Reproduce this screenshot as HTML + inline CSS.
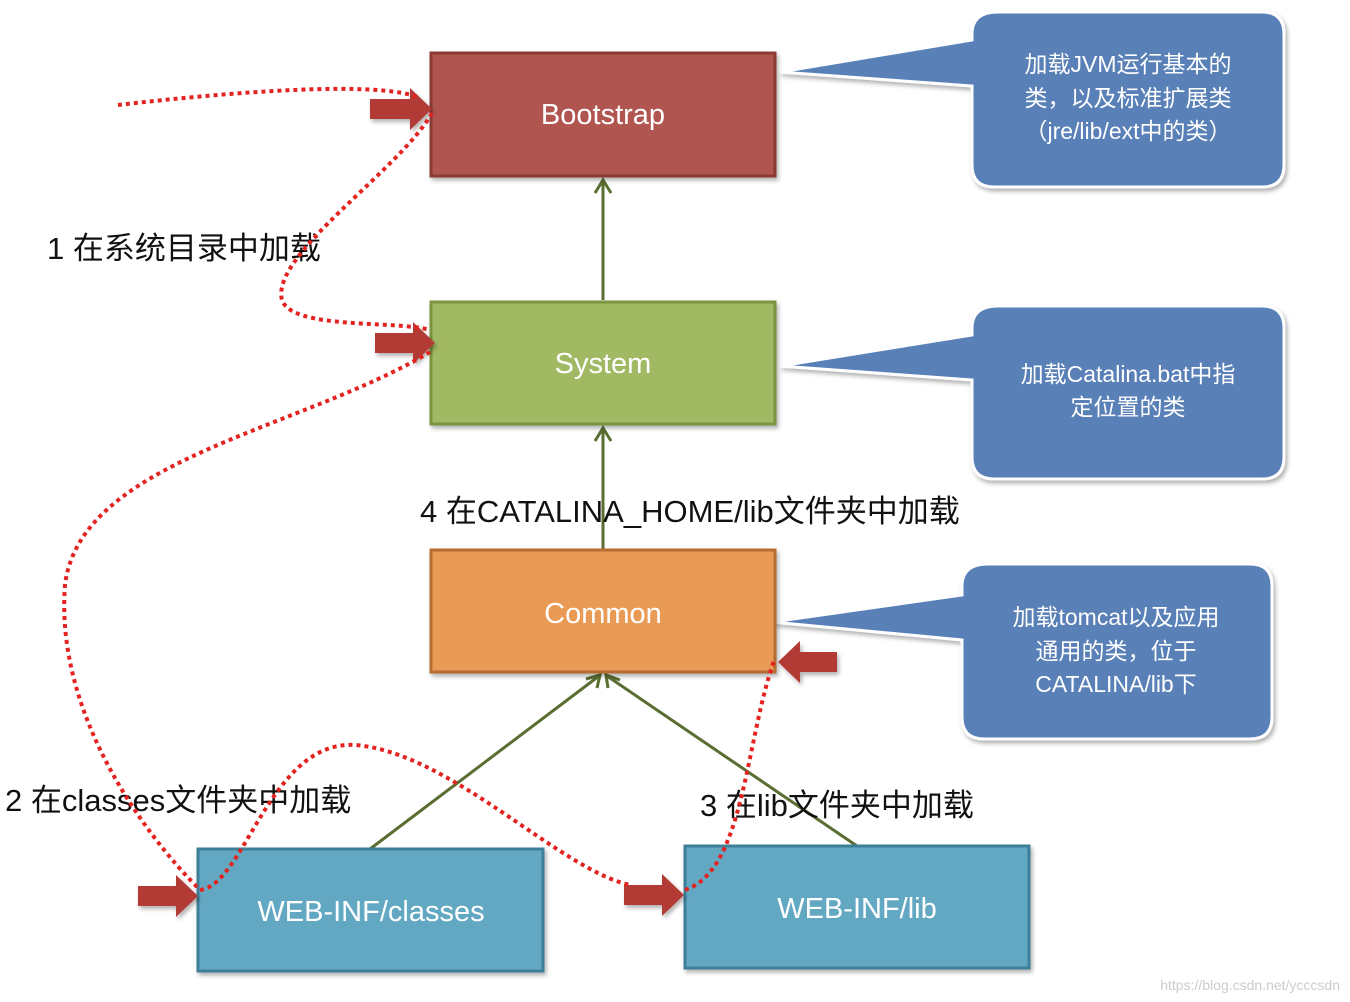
<!DOCTYPE html>
<html><head><meta charset="utf-8"><style>
html,body{margin:0;padding:0;background:#fff;}
svg{display:block;}
text{font-family:"Liberation Sans","Noto Sans CJK SC",sans-serif;}
</style></head><body>
<svg width="1350" height="1002" viewBox="0 0 1350 1002" xmlns="http://www.w3.org/2000/svg">
<defs>
<filter id="sh" x="-10%" y="-10%" width="130%" height="130%"><feDropShadow dx="2" dy="3" stdDeviation="2" flood-color="#000" flood-opacity="0.3"/></filter>
</defs>
<!-- callouts -->
<g fill="#5a80b8" stroke="#fff" stroke-width="3" filter="url(#sh)">
<path d="M998,12 H1262 Q1284,12 1284,34 V165 Q1284,187 1262,187 H994 Q972,187 972,165 V86 L780,72 L972,40 V34 Q972,12 998,12 Z"/>
<path d="M998,306 H1262 Q1284,306 1284,328 V457 Q1284,479 1262,479 H994 Q972,479 972,457 V380 L780,366 L972,335 V328 Q972,306 998,306 Z"/>
<path d="M988,564 H1250 Q1272,564 1272,586 V717 Q1272,739 1250,739 H984 Q962,739 962,717 V640 L772,622 L962,595 V586 Q962,564 988,564 Z"/>
</g>
<g fill="#fff" font-size="23" text-anchor="middle">
<text x="1128" y="72">加载JVM运行基本的</text>
<text x="1128" y="106">类，以及标准扩展类</text>
<text x="1128" y="139">（jre/lib/ext中的类）</text>
<text x="1128" y="382">加载Catalina.bat中指</text>
<text x="1128" y="415">定位置的类</text>
<text x="1116" y="625">加载tomcat以及应用</text>
<text x="1116" y="659">通用的类，位于</text>
<text x="1116" y="692">CATALINA/lib下</text>
</g>
<!-- green connectors -->
<g stroke="#5a6e32" stroke-width="3" fill="none">
<line x1="603" y1="300" x2="603" y2="180"/>
<polyline points="595,193 603,180 611,193"/>
<line x1="603" y1="550" x2="603" y2="428"/>
<polyline points="595,441 603,428 611,441"/>
<line x1="370" y1="849" x2="599" y2="676"/>
<line x1="857" y1="846" x2="607" y2="676"/>
<polyline points="586,679 600,675 597,688"/>
<polyline points="620,680 606,675 608,688"/>
</g>
<!-- boxes -->
<g stroke-width="3" filter="url(#sh)">
<rect x="431" y="53" width="344" height="123" fill="#b05450" stroke="#8b3a36"/>
<rect x="431" y="302" width="344" height="122" fill="#a2b964" stroke="#7a9440"/>
<rect x="431" y="550" width="344" height="122" fill="#e99a55" stroke="#b66d30"/>
<rect x="198" y="849" width="345" height="122" fill="#63a8c3" stroke="#3e7f99"/>
<rect x="685" y="846" width="344" height="122" fill="#63a8c3" stroke="#3e7f99"/>
</g>
<g fill="#fff" font-size="29" text-anchor="middle">
<text x="603" y="124">Bootstrap</text>
<text x="603" y="373">System</text>
<text x="603" y="623">Common</text>
<text x="371" y="921">WEB-INF/classes</text>
<text x="857" y="918">WEB-INF/lib</text>
</g>
<!-- labels -->
<g fill="#111" font-size="31">
<text x="47" y="259">1 在系统目录中加载</text>
<text x="420" y="522">4 在CATALINA_HOME/lib文件夹中加载</text>
<text x="5" y="811">2 在classes文件夹中加载</text>
<text x="700" y="816">3 在lib文件夹中加载</text>
</g>
<!-- red fat arrows -->
<g fill="#b23a36" filter="url(#sh)">
<path d="M370,99 H410 V88 L432,109 L410,130 V119 H370 Z"/>
<path d="M375,333 H413 V322 L435,343 L413,364 V353 H375 Z"/>
<path d="M837,652 H800 V641 L778,662 L800,683 V672 H837 Z"/>
<path d="M138,886 H176 V875 L198,896 L176,917 V906 H138 Z"/>
<path d="M624,885 H662 V874 L684,895 L662,916 V905 H624 Z"/>
</g>
<!-- red dotted curves -->
<g stroke="#e3231f" stroke-width="4" fill="none" stroke-dasharray="4,4">
<path d="M118,105 C230,92 380,80 420,98"/>
<path d="M432,113 C400,170 270,255 282,300 C292,330 395,320 430,330"/>
<path d="M430,352 C300,430 80,460 65,585 C55,710 140,830 200,890"/>
<path d="M200,890 C245,885 270,740 355,745 C450,752 560,870 630,885"/>
<path d="M685,890 C745,870 745,740 775,658"/>
</g>
<text x="1340" y="990" font-size="14" fill="#ccc" text-anchor="end">https://blog.csdn.net/ycccsdn</text>
</svg>
</body></html>
